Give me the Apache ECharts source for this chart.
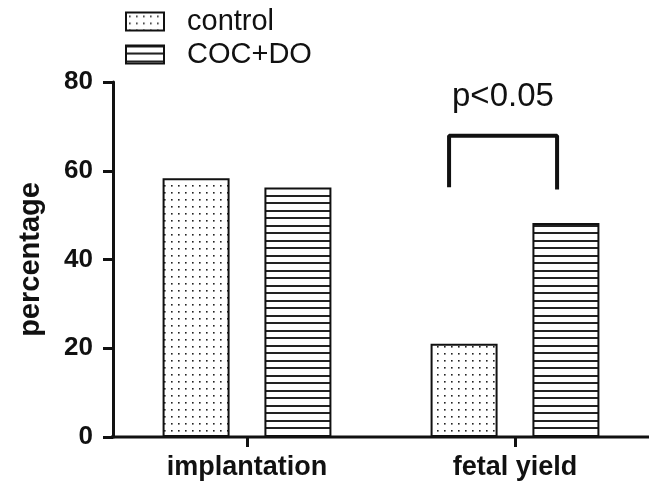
<!DOCTYPE html>
<html><head><meta charset="utf-8">
<script src="https://cdn.jsdelivr.net/npm/echarts@6/dist/echarts.min.js"></script>
<style>html,body{margin:0;padding:0;background:#fff}#c{width:651px;height:482px}</style>
</head><body><div id="c"></div>
<script>
const categories = ['implantation', 'fetal yield'];
const controlValues = [58.3, 21.0];
const cocValues = [56.2, 48.2];
const yTicks = [0, 20, 40, 60, 80];
// bracket (x in category-band units, y in percentage)
const bracketX = [1.254, 1.254, 1.657, 1.657];
const bracketY = [56.3, 67.9, 67.9, 55.8];
const sigLabel = 'p<0.05';
const sigPos = [1.455, 76.6];
const axisLineX = [-0.037, 2];

function dotPattern() {
  const c = document.createElement('canvas'); c.width = 7; c.height = 7;
  const g = c.getContext('2d');
  g.fillStyle = '#fff'; g.fillRect(0, 0, 7, 7);
  g.fillStyle = '#222'; g.fillRect(3, 3, 1.6, 1.6);
  return c;
}
function linePattern() {
  const c = document.createElement('canvas'); c.width = 8; c.height = 15;
  const g = c.getContext('2d');
  g.fillStyle = '#fff'; g.fillRect(0, 0, 8, 15);
  g.fillStyle = '#222'; g.fillRect(0, 0, 8, 2); g.fillRect(0, 7, 8, 2);
  return c;
}

const chart = echarts.init(document.getElementById('c'), null, {renderer: 'canvas'});
const font = 'Liberation Sans, Arial, Helvetica, sans-serif';
chart.setOption({
  animation: false,
  backgroundColor: '#fff',
  grid: {left: 113, right: 2, top: 82, bottom: 45, containLabel: false},
  legend: {
    orient: 'vertical', left: 125, top: 7, itemWidth: 38, itemHeight: 18, itemGap: 4,
    padding: 0, icon: 'rect',
    data: ['control', 'COC+DO'],
    textStyle: {fontFamily: font, fontSize: 29, color: '#111', padding: [0, 0, 0, 18]}
  },
  xAxis: [{
    type: 'category', data: categories, gridIndex: 0,
    axisLine: {show: false},
    axisTick: {show: true, alignWithLabel: true, length: 10, lineStyle: {color: '#111', width: 3}},
    axisLabel: {fontFamily: font, fontSize: 27, fontWeight: 'bold', color: '#111', margin: 17},
  }, {
    type: 'value', min: 0, max: 2, show: false, gridIndex: 0
  }],
  yAxis: {
    type: 'value', min: 0, max: 80, interval: 20,
    name: 'percentage', nameLocation: 'middle', nameGap: 68,
    nameTextStyle: {fontFamily: font, fontSize: 29, fontWeight: 'bold', color: '#111'},
    axisLine: {show: true, lineStyle: {color: '#111', width: 3}},
    axisTick: {show: true, length: 10, lineStyle: {color: '#111', width: 3}},
    axisLabel: {fontFamily: font, fontSize: 26, fontWeight: 'bold', color: '#111', margin: 20,
      formatter: v => yTicks.includes(v) ? String(v) : ''},
    splitLine: {show: false}
  },
  series: [{
    name: 'control', type: 'bar', data: controlValues, barWidth: '25%', barGap: '52%',
    itemStyle: {color: {image: dotPattern(), repeat: 'repeat'}, borderColor: '#111', borderWidth: 2}
  }, {
    name: 'COC+DO', type: 'bar', data: cocValues, barWidth: '25%', barGap: '52%',
    itemStyle: {color: {image: linePattern(), repeat: 'repeat'}, borderColor: '#111', borderWidth: 2}
  }, {
    type: 'line', xAxisIndex: 1, data: axisLineX.map(x => [x, 0]), symbol: 'none', clip: false,
    lineStyle: {color: '#111', width: 3}, z: 5, silent: true
  }, {
    type: 'line', xAxisIndex: 1, data: bracketX.map((x, i) => [x, bracketY[i]]), symbol: 'none',
    lineStyle: {color: '#111', width: 4}, silent: true
  }, {
    type: 'scatter', xAxisIndex: 1, data: [sigPos], symbolSize: 0, silent: true,
    itemStyle: {opacity: 1},
    label: {show: true, position: 'inside', formatter: sigLabel, fontFamily: font, fontSize: 33, color: '#111', opacity: 1}
  }]
});
</script></body></html>
